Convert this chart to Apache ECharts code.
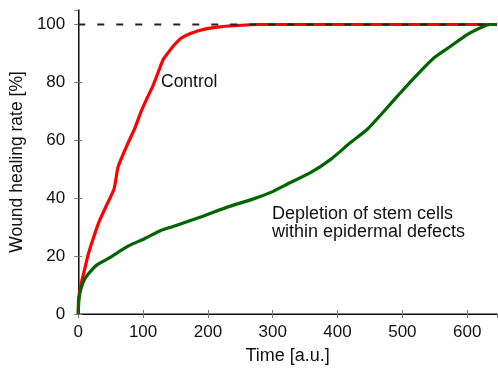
<!DOCTYPE html>
<html><head><meta charset="utf-8">
<script src="https://cdn.jsdelivr.net/npm/echarts@6/dist/echarts.min.js"></script>
<style>html,body{margin:0;padding:0;background:#fff}#c{width:498px;height:370px}</style>
</head><body><div id="c"></div>
<script>
// Data
const xMin = 0, xMax = 646, xStep = 100;
const yMin = 0, yMax = 105, yStep = 20;
const refLevel = 100;

const controlT = [0, 0.5, 4, 9, 15, 23, 32, 43.5, 55, 58, 61, 67, 77, 87, 97, 106, 115, 123, 131, 138.5, 146, 159, 174, 195, 215, 240, 280, 646];
const controlY = [0, 5, 10, 14.6, 20.3, 26, 31.8, 37.5, 43, 46.5, 50.5, 54, 59.2, 64, 70, 74.5, 78.7, 83.3, 87.9, 90.2, 92.4, 95.3, 97, 98.4, 99.1, 99.6, 100, 100];

const depT = [0, 1, 4, 10, 18, 28, 46, 62, 79, 102, 128, 143, 190, 231, 267, 297, 328, 359, 390, 420, 446, 472, 497, 523, 549, 574, 600, 625, 636, 646];
const depY = [0, 5, 8.6, 12.1, 14.5, 16.8, 19.1, 21.4, 23.7, 26, 28.9, 30, 33.6, 37, 39.5, 42, 45.5, 48.9, 53.5, 59.2, 63.8, 70.1, 76.4, 82.7, 88.5, 92.4, 96.5, 99.3, 100, 100];

const xTitle = 'Time [a.u.]';
const yTitle = 'Wound healing rate [%]';
const controlLabel = 'Control';
const depLabel = 'Depletion of stem cells\nwithin epidermal defects';

const font = 'Liberation Sans';
const zip = (a, b) => a.map((v, i) => [v, b[i]]);

const chart = echarts.init(document.getElementById('c'), null, {renderer: 'canvas'});
const tickStyle = {inside: true, length: 4, lineStyle: {color: '#777', width: 1}};
const option = {
  animation: false,
  backgroundColor: '#fff',
  grid: {left: 77, right: 1, top: 10, bottom: 54},
  xAxis: [{
    type: 'value', min: xMin, max: xMax, interval: xStep, position: 'bottom',
    axisLine: {show: true, lineStyle: {color: '#555', width: 1.5}},
    axisTick: tickStyle,
    axisLabel: {fontSize: 17, color: '#111', margin: 10, fontFamily: font, showMaxLabel: false},
    splitLine: {show: false},
    name: xTitle, nameLocation: 'middle', nameGap: 33,
    nameTextStyle: {fontSize: 18, color: '#111', fontFamily: font}
  }, {
    type: 'value', min: xMin, max: xMax, interval: xStep, position: 'top',
    axisLine: {show: true, lineStyle: {color: '#111', width: 1}},
    axisTick: tickStyle, axisLabel: {show: false}, splitLine: {show: false}
  }],
  yAxis: [{
    type: 'value', min: yMin, max: yMax, interval: yStep, position: 'left',
    axisLine: {show: true, lineStyle: {color: '#555', width: 1.5}},
    axisTick: tickStyle,
    axisLabel: {fontSize: 17, color: '#111', margin: 13, fontFamily: font, showMaxLabel: false},
    splitLine: {show: false},
    name: yTitle, nameLocation: 'middle', nameGap: 42,
    nameTextStyle: {fontSize: 17.5, color: '#111', fontFamily: font}
  }, {
    type: 'value', min: yMin, max: yMax, interval: yStep, position: 'right',
    axisLine: {show: true, lineStyle: {color: '#111', width: 1}},
    axisTick: tickStyle, axisLabel: {show: false}, splitLine: {show: false}
  }],
  series: [{
    type: 'line', data: zip(controlT, controlY), showSymbol: false, smooth: 0.15,
    lineStyle: {color: '#ff0000', width: 3.2}, z: 2
  }, {
    type: 'line', data: zip(depT, depY), showSymbol: false, smooth: 0.2,
    lineStyle: {color: '#006400', width: 3.2}, z: 3
  }, {
    type: 'line', data: [[xMin, refLevel], [xMax, refLevel]], showSymbol: false,
    lineStyle: {color: '#222', width: 2, type: [7, 12]}, z: 4
  }],
  graphic: [{
    type: 'text', left: 161, top: 73.5,
    style: {text: controlLabel, fontSize: 17.5, fontFamily: font, fill: '#111'}
  }, {
    type: 'text', left: 272, top: 205,
    style: {text: depLabel, fontSize: 18, fontFamily: font, fill: '#111', lineHeight: 18}
  }]
};
chart.setOption(option);
</script></body></html>
